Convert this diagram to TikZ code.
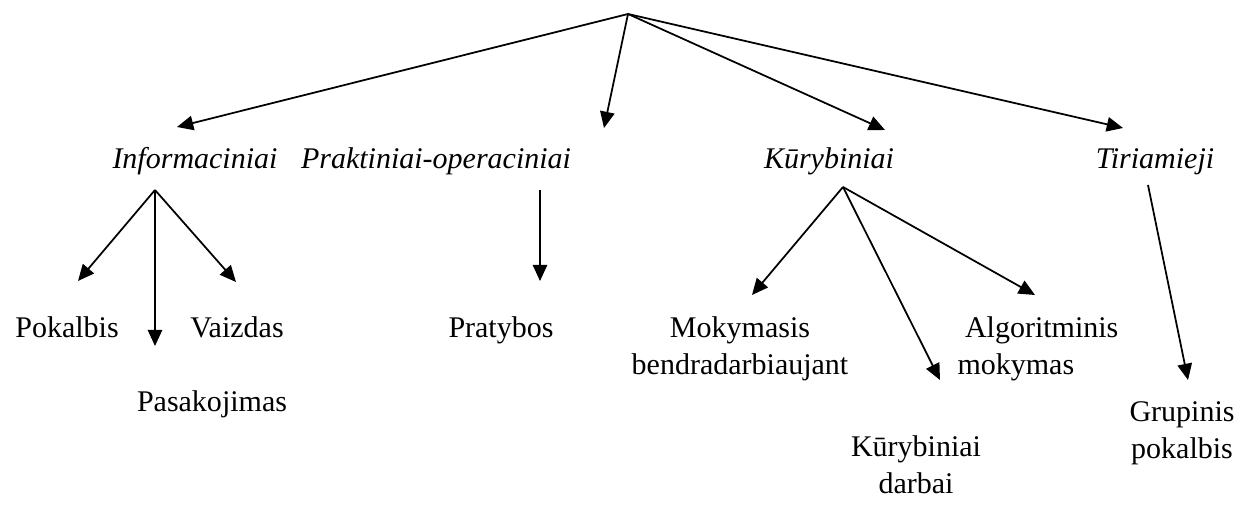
\documentclass[tikz,border=0pt]{standalone}
\usepackage{fontspec}
\setmainfont{Liberation Serif}
\usetikzlibrary{arrows.meta}

\newcommand{\schrift}{\fontsize{12pt}{14.8pt}\selectfont}

\tikzset{
    pfeil/.style={draw, line width=0.7pt, -{Triangle[length=6.5pt,width=5.8pt]}},
    gruppe/.style={inner sep=0pt, anchor=base, font=\schrift\itshape},
    methode/.style={inner sep=0pt, anchor=base, align=center, font=\schrift}
}

\begin{document}
\begin{tikzpicture}[x=0.4pt, y=-0.4pt]

        \useasboundingbox (0,0) rectangle (1240,506);  %Rahmen

        \coordinate (wurzel) at (628,14);  %Spitze oben

        \node[gruppe] (info) at (195,168) {Informaciniai};
        \node[gruppe] (prakt) at (436,168) {Praktiniai-operaciniai};
        \node[gruppe] (kur) at (829,168) {Kūrybiniai};
        \node[gruppe] (tir) at (1155,168) {Tiriamieji};

        \node[methode] (pok) at (67,337) {Pokalbis};
        \node[methode] (vaiz) at (237,337) {Vaizdas};
        \node[methode] (pasak) at (212,411) {Pasakojimas};
        \node[methode] (prat) at (501,337) {Pratybos};
        \node[methode] (moky) at (740,374) {Mokymasis\\bendradarbiaujant};  %base = letzte Zeile
        \node[methode, anchor=base west, align=left] (alg) at (957,374) {\ Algoritminis\\mokymas};
        \node[methode] (kurd) at (916,493) {Kūrybiniai\\darbai};
        \node[methode] (grup) at (1182,458) {Grupinis\\pokalbis};

        \draw[pfeil] (wurzel) -- ([shift={(-18,-41)}]info.base);  %erste Ebene
        \draw[pfeil] (wurzel) -- ([shift={(168,-40)}]prakt.base);
        \draw[pfeil] (wurzel) -- ([shift={(56,-38)}]kur.base);
        \draw[pfeil] (wurzel) -- ([shift={(-32,-40)}]tir.base);

        \draw[pfeil] ([shift={(-40,22)}]info.base) -- ([shift={(11,-56)}]pok.base);  %zweite Ebene
        \draw[pfeil] ([shift={(-40,22)}]info.base) -- ([shift={(-57,-65)}]pasak.base);
        \draw[pfeil] ([shift={(-40,22)}]info.base) -- ([shift={(-1,-55)}]vaiz.base);
        \draw[pfeil] ([shift={(104,22)}]prakt.base) -- ([shift={(39,-56)}]prat.base);
        \draw[pfeil] ([shift={(14,19)}]kur.base) -- ([shift={(12,-79)}]moky.base);
        \draw[pfeil] ([shift={(14,19)}]kur.base) -- ([shift={(24,-113)}]kurd.base);
        \draw[pfeil] ([shift={(14,19)}]kur.base) -- ([shift={(78,-79)}]alg.base west);
        \draw[pfeil] ([shift={(-7,17)}]tir.base) -- ([shift={(6,-78)}]grup.base);

\end{tikzpicture}
\end{document}
